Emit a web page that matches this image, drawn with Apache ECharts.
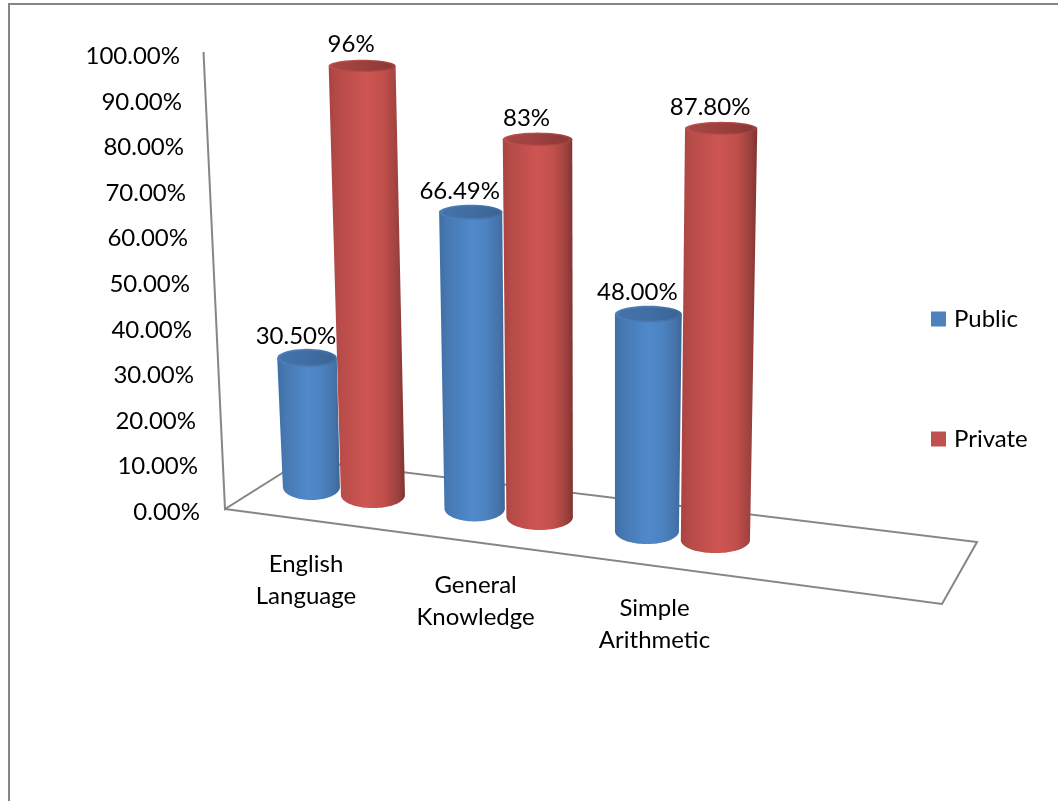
<!DOCTYPE html>
<html><head><meta charset="utf-8">
<style>html,body{margin:0;padding:0;background:#fff}#c{width:1058px;height:801px}</style>
<script src="https://cdn.jsdelivr.net/npm/echarts@6/dist/echarts.min.js"></script>
</head><body><div id="c"></div>
<script>
const categories = ["English\nLanguage", "General\nKnowledge", "Simple\nArithmetic"];
const publicValues = [0.305, 0.6649, 0.48];
const privateValues = [0.96, 0.83, 0.878];
const publicLabels = ["30.50%", "66.49%", "48.00%"];
const privateLabels = ["96%", "83%", "87.80%"];
const FONT = 'Lato, Carlito, sans-serif';
const FS = 24;

// 3D look: projection of the flat axes onto the sheared, perspective floor
function baseX(u){ return u + 0.000157 * (u - 507) * (u - 507); }
function baseY(zeroY, bx){ return zeroY - 25 + 0.1315 * (bx - 311.5); }
function heightPx(bx, pct){ return pct * (4.1385 + 0.00071 * (bx - 311) + 0.003 * pct); }
function ellipsePts(cx, cy, rx, ry, from, to){
  const p = [], n = 48;
  for (let i = 0; i <= n; i++){
    const a = from + (to - from) * i / n;
    p.push([cx + rx * Math.cos(a), cy + ry * Math.sin(a)]);
  }
  return p;
}
function grad(stops){
  return new echarts.graphic.LinearGradient(0, 0, 1, 0, stops.map(s => ({offset: s[0], color: s[1]})));
}
const looks = {
  Public: {
    shift: -32.5, w0: 57, wx: 311, wk: 0.0208,
    side: [[0,'#3F6EA5'],[0.12,'#4778B2'],[0.5,'#508ACC'],[0.72,'#4C82C0'],[0.9,'#4673AB'],[1,'#3D6697']],
    rim: [[0,'#4C7DB8'],[0.5,'#4B7CB6'],[1,'#41699B']],
    top: [[0,'#4473A9'],[0.5,'#406EA4'],[1,'#3B6494']]
  },
  Private: {
    shift: 32.5, w0: 64, wx: 373, wk: 0.015,
    side: [[0,'#A84441'],[0.12,'#B64B48'],[0.5,'#CE5552'],[0.72,'#C24F4C'],[0.9,'#9E423F'],[1,'#823331']],
    rim: [[0,'#BA4F4C'],[0.5,'#B64D4A'],[1,'#9A413E']],
    top: [[0,'#A84745'],[0.5,'#9C403E'],[1,'#8C3836']]
  }
};
function cylinder(name, labels){
  const L = looks[name];
  return function(params, api){
    const i = api.value(0), frac = api.value(1);
    const zero = api.coord([i, 0]);
    const pct = frac * 100;
    const bx = baseX(zero[0] + L.shift);
    const by = baseY(zero[1], bx);
    const tx = bx + (bx - 590) * 0.00052 * pct;
    const ty = by - heightPx(bx, pct);
    const rb = (L.w0 + L.wk * (bx - L.wx)) / 2;
    const rt = rb * 1.045;
    const ryb = 13, ryt = 10.5 - 0.045 * pct;
    const body = [[tx - rt, ty], [tx + rt, ty]].concat(ellipsePts(bx, by, rb, ryb, 0, Math.PI));
    return {
      type: 'group',
      children: [
        {type: 'polygon', shape: {points: body}, style: {fill: grad(L.side)}},
        {type: 'polygon', shape: {points: ellipsePts(tx, ty, rt, ryt, 0, Math.PI * 2)}, style: {fill: grad(L.rim)}},
        {type: 'polygon', shape: {points: ellipsePts(tx, ty, rt * 0.9, ryt * 0.8, 0, Math.PI * 2)}, style: {fill: grad(L.top)}},
        {type: 'text', z2: 100, style: {text: labels[i], x: tx - 11, y: ty - 21.5, fill: '#000',
          font: FS + 'px ' + FONT, align: 'center', verticalAlign: 'middle'}}
      ]
    };
  };
}
function catLabel(params, api){
  const i = api.value(0);
  const zero = api.coord([i, 0]);
  const bx = baseX(zero[0]);
  return {type: 'text', style: {text: categories[i], x: bx * 1.028 - 45.6, y: baseY(zero[1], bx) + 89,
    fill: '#000', font: FS + 'px ' + FONT, lineHeight: 32, align: 'center', verticalAlign: 'middle'}};
}
const rich = {};
for (let k = 0; k <= 10; k++) rich['t' + k] = {fontFamily: FONT, fontSize: FS, color: '#000', padding: [0, k * 2, 0, 0]};

const chart = echarts.init(document.getElementById('c'), null, {renderer: 'canvas'});
chart.setOption({
  animation: false,
  backgroundColor: '#fff',
  grid: {left: 252.75, width: 508.5, top: 56.5, bottom: 289, containLabel: false},
  xAxis: {type: 'category', data: categories, show: false},
  yAxis: {
    type: 'value', min: 0, max: 1, interval: 0.1,
    axisLine: {show: false}, axisTick: {show: false}, splitLine: {show: false},
    axisLabel: {
      margin: 52.75, rich: rich, hideOverlap: false,
      formatter: v => '{t' + Math.round(v * 10) + '|' + (v * 100).toFixed(2) + '%}'
    }
  },
  legend: {
    orient: 'vertical', left: 931, top: 307, padding: 0, itemWidth: 15, itemHeight: 15, itemGap: 96,
    selectedMode: false, icon: 'rect', data: ['Public', 'Private'],
    textStyle: {fontFamily: FONT, fontSize: FS, color: '#000', padding: [0, 0, 0, 3]}
  },
  graphic: {elements: [
    {type: 'rect', z: 0, shape: {x: 9, y: 4, width: 1200, height: 1000}, style: {fill: 'none', stroke: '#868686', lineWidth: 2}},
    {type: 'polyline', z: 0, shape: {points: [[203.5, 52], [225, 509], [303, 460], [977, 542], [942, 604], [225, 509]]},
      style: {fill: 'none', stroke: '#868686', lineWidth: 2}}
  ]},
  series: [
    {name: 'Public', type: 'custom', itemStyle: {color: '#4F81BD'}, data: publicValues.map((v, i) => [i, v]), renderItem: cylinder('Public', publicLabels), z: 3, silent: true},
    {name: 'Private', type: 'custom', itemStyle: {color: '#C0504D'}, data: privateValues.map((v, i) => [i, v]), renderItem: cylinder('Private', privateLabels), z: 4, silent: true},
    {name: 'Categories', type: 'custom', data: categories.map((c, i) => [i, 0]), renderItem: catLabel, z: 5, silent: true}
  ]
});
</script></body></html>
